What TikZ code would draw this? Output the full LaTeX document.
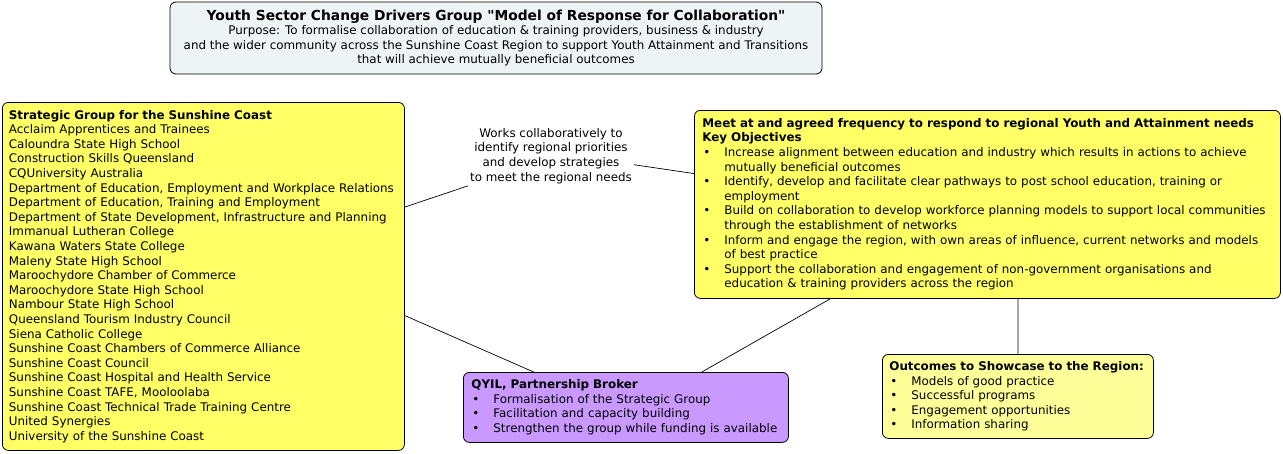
\documentclass[tikz,border=0pt]{standalone}
\usepackage{fontspec}
\setmainfont{DejaVu Sans}
\definecolor{sgyellow}{HTML}{FFFF66}
\definecolor{outyellow}{HTML}{FFFF99}
\definecolor{brokerpurple}{HTML}{C999FF}
\definecolor{titleblue}{HTML}{EEF3F5}
\newcommand\fnt{\fontsize{11.9pt}{14.6pt}\selectfont\hyphenpenalty=10000\exhyphenpenalty=10000}
\newcommand\bpt[2][22pt]{\par\hangindent=#1\hangafter=1\noindent\makebox[#1][l]{\hspace{1pt}•}#2\par}
\tikzset{
    box/.style={draw, line width=0.8pt, rounded corners=6pt, anchor=north west,
        align=left, inner xsep=8pt, inner ysep=4pt, font=\fnt},
    link/.style={draw, line width=0.7pt}
}
\begin{document}
\begin{tikzpicture}[x=1pt, y=-1pt]
    \useasboundingbox (0, 0) rectangle (1283, 453);

    %% title
    \node[draw, line width=0.8pt, rounded corners=6pt, fill=titleblue, align=center,
        minimum width=652, minimum height=72, font=\fnt, inner sep=2pt] (title) at (496, 38)
        {{\bfseries\fontsize{13.8pt}{15pt}\selectfont Youth Sector Change Drivers Group \textquotedbl Model of Response for Collaboration\textquotedbl}\\
        Purpose: To formalise collaboration of education \& training providers, business \& industry\\
        and the wider community across the Sunshine Coast Region to support Youth Attainment and Transitions\\
        that will achieve mutually beneficial outcomes};

    %% the boxes
    \node[box, fill=sgyellow, minimum width=402, minimum height=348, inner xsep=6.5pt, text width=389] (strat) at (2, 102)
        {\textbf{Strategic Group for the Sunshine Coast}\\
        Acclaim Apprentices and Trainees\\
        Caloundra State High School\\
        Construction Skills Queensland\\
        CQUniversity Australia\\
        Department of Education, Employment and Workplace Relations\\
        Department of Education, Training and Employment\\
        Department of State Development, Infrastructure and Planning\\
        Immanual Lutheran College\\
        Kawana Waters State College\\
        Maleny State High School\\
        Maroochydore Chamber of Commerce\\
        Maroochydore State High School\\
        Nambour State High School\\
        Queensland Tourism Industry Council\\
        Siena Catholic College\\
        Sunshine Coast Chambers of Commerce Alliance\\
        Sunshine Coast Council\\
        Sunshine Coast Hospital and Health Service\\
        Sunshine Coast TAFE, Mooloolaba\\
        Sunshine Coast Technical Trade Training Centre\\
        United Synergies\\
        University of the Sunshine Coast};

    \node[box, fill=sgyellow, minimum width=586, minimum height=188, text width=570] (obj) at (694, 110)
        {\textbf{Meet at and agreed frequency to respond to regional Youth and Attainment needs}\par
        \textbf{Key Objectives}
        \bpt{Increase alignment between education and industry which results in actions to achieve mutually beneficial outcomes}
        \bpt{Identify, develop and facilitate clear pathways to post school education, training or employment}
        \bpt{Build on collaboration to develop workforce planning models to support local communities through the establishment of networks}
        \bpt{Inform and engage the region, with own areas of influence, current networks and models of best practice}
        \bpt{Support the collaboration and engagement of non-government organisations and education \& training providers across the region}};

    \node[box, fill=brokerpurple, minimum width=325, minimum height=70, text width=309] (qyil) at (463, 372)
        {\textbf{QYIL, Partnership Broker}
        \bpt{Formalisation of the Strategic Group}
        \bpt{Facilitation and capacity building}
        \bpt{Strengthen the group while funding is available}};

    \node[box, fill=outyellow, minimum width=271, minimum height=84, inner xsep=7pt, text width=257] (outc) at (882, 354)
        {\textbf{Outcomes to Showcase to the Region:}
        \bpt{Models of good practice}
        \bpt{Successful programs}
        \bpt{Engagement opportunities}
        \bpt{Information sharing}};

    \node[align=center, font=\fnt, inner sep=2pt] (works) at (551, 156)
        {Works collaboratively to\\identify regional priorities\\and develop strategies\\to meet the regional needs};

    %% connectors
    \draw[link] (strat.19.5) -- (works.south west);
    \draw[link] (works.-6.7) -- (obj.174);
    \draw[link] (strat.-11.8) -- (qyil.159);
    \draw[link] (qyil.25.5) -- (obj.211.7);
    \draw[link] (obj.-72.9) -- (outc.north);
\end{tikzpicture}
\end{document}
